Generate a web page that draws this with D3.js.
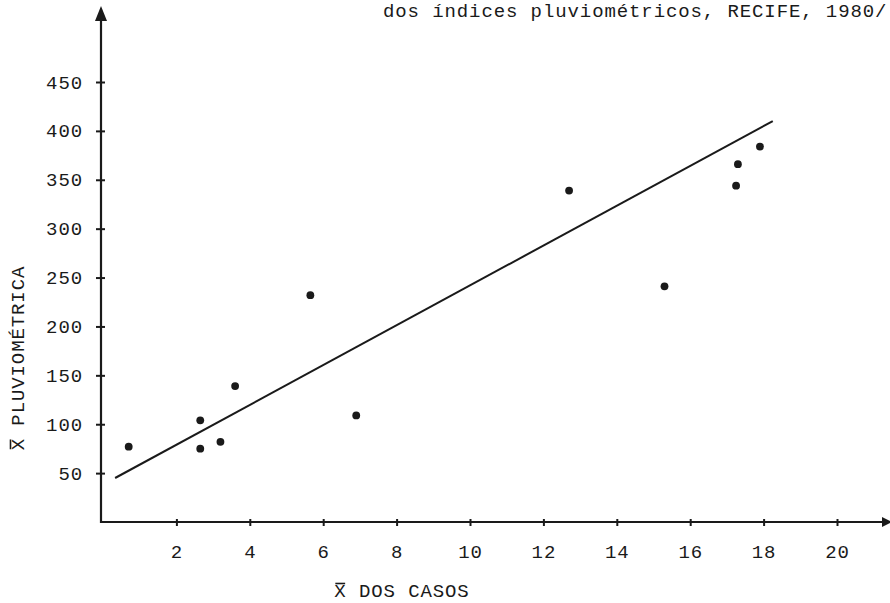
<!DOCTYPE html>
<html>
<head>
<meta charset="utf-8">
<script src="https://cdn.jsdelivr.net/npm/d3@7"></script>
<style>
  body { margin: 0; background: #fff; }
  text { font-family: "Liberation Mono", "DejaVu Sans Mono", monospace; fill: #1a1a1a; }
</style>
</head>
<body>
<div id="chart"></div>
<script>
// data
let casos = [0.7, 2.65, 2.65, 3.2, 3.6, 5.65, 6.9, 12.7, 15.3, 17.25, 17.3, 17.9];
let pluvio = [77, 104, 75, 82, 139, 232, 109, 339, 241, 344, 366, 384];
// fitted line end points
let lineX = [0.33, 18.25];
let lineY = [45, 410];
let xTicks = [2, 4, 6, 8, 10, 12, 14, 16, 18, 20];
let yTicks = [50, 100, 150, 200, 250, 300, 350, 400, 450];

let width = 890, height = 603;
let axisX = 101, axisY = 522;
let fontSize = "19px", spacing = "0.9px";

let svg = d3.select("#chart")
    .append("svg")
    .attr("width", width)
    .attr("height", height);

let x = d3.scaleLinear().domain([0, 20]).range([103, 837]);
let y = d3.scaleLinear().domain([0, 450]).range([axisY, 82]);

// title fragment (top of the scanned page)
svg.append("text")
    .attr("x", 383)
    .attr("y", 17)
    .style("font-size", fontSize)
    .style("letter-spacing", spacing)
    .text("dos índices pluviométricos, RECIFE, 1980/");

// Y axis
let yAxis = d3.axisLeft(y).tickValues(yTicks).tickSize(5).tickPadding(13);
let gy = svg.append("g")
    .attr("transform", "translate(" + axisX + ",0)")
    .call(yAxis);
gy.select(".domain").remove();
gy.selectAll(".tick line").attr("stroke", "#1a1a1a").attr("stroke-width", 2).attr("x2", -5);
gy.selectAll(".tick").append("line")
    .attr("x2", 4).attr("stroke", "#1a1a1a").attr("stroke-width", 2);
gy.selectAll(".tick text")
    .style("font-size", fontSize)
    .style("letter-spacing", spacing)
    .attr("fill", "#1a1a1a");

// X axis
let xAxis = d3.axisBottom(x).tickValues(xTicks).tickSize(4).tickPadding(19);
let gx = svg.append("g")
    .attr("transform", "translate(0," + axisY + ")")
    .call(xAxis);
gx.select(".domain").remove();
gx.selectAll(".tick line").attr("stroke", "#1a1a1a").attr("stroke-width", 2).attr("y1", -3);
gx.selectAll(".tick text")
    .style("font-size", fontSize)
    .style("letter-spacing", spacing)
    .attr("fill", "#1a1a1a");

// axis lines with arrows
svg.append("line")
    .attr("x1", axisX).attr("y1", axisY + 1)
    .attr("x2", axisX).attr("y2", 14)
    .attr("stroke", "#1a1a1a").attr("stroke-width", 2.2);
svg.append("path")
    .attr("d", "M" + axisX + ",6 L" + (axisX - 6) + ",21 L" + (axisX + 6) + ",21 Z")
    .attr("fill", "#1a1a1a");
svg.append("line")
    .attr("x1", axisX - 1).attr("y1", axisY)
    .attr("x2", 884).attr("y2", axisY)
    .attr("stroke", "#1a1a1a").attr("stroke-width", 2.2);
svg.append("path")
    .attr("d", "M882," + (axisY - 5) + " L892," + axisY + " L882," + (axisY + 5) + " Z")
    .attr("fill", "#1a1a1a");

// regression line
svg.append("path")
    .datum(d3.zip(lineX, lineY))
    .attr("fill", "none")
    .attr("stroke", "#1a1a1a")
    .attr("stroke-width", 2)
    .attr("d", d3.line().x(d => x(d[0])).y(d => y(d[1])));

// points
svg.selectAll(".dot")
    .data(d3.zip(casos, pluvio))
    .enter()
    .append("circle")
    .attr("class", "dot")
    .attr("cx", d => x(d[0]))
    .attr("cy", d => y(d[1]))
    .attr("r", 3.9)
    .attr("fill", "#1a1a1a");

// axis titles, X with an overbar drawn over the first char
function barTitle(g, label) {
    let t = g.append("text")
        .attr("text-anchor", "middle")
        .style("font-size", fontSize)
        .style("letter-spacing", spacing)
        .text(label);
    let b = t.node().getExtentOfChar(0);
    g.append("line")
        .attr("x1", b.x + 1).attr("x2", b.x + b.width - 1.5)
        .attr("y1", b.y + 2.5).attr("y2", b.y + 2.5)
        .attr("stroke", "#1a1a1a").attr("stroke-width", 1.6);
}

barTitle(svg.append("g").attr("transform", "translate(402,597)"), "X DOS CASOS");
barTitle(svg.append("g").attr("transform", "translate(24,358) rotate(-90)"), "X PLUVIOMÉTRICA");
</script>
</body>
</html>
